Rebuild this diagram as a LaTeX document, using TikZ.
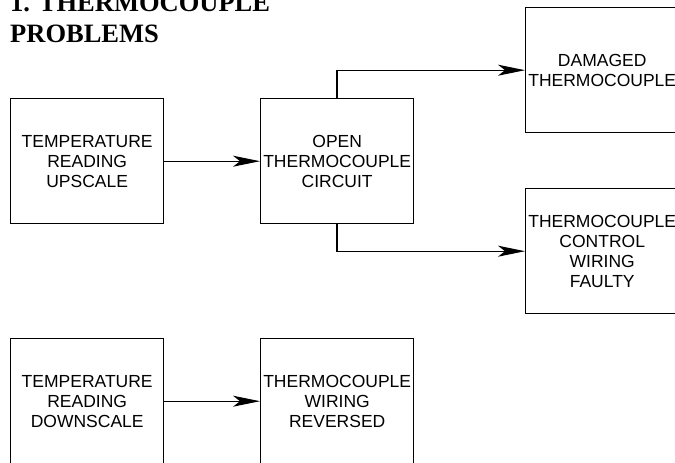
\documentclass[tikz,border=0pt]{standalone}
\usepackage{fontspec}
\setmainfont{Liberation Serif}
\newfontfamily\boxfont{Liberation Sans}
\usetikzlibrary{arrows.meta}
\begin{document}
\begin{tikzpicture}[x=1pt,y=-1pt,
  blk/.style={draw,line width=1.4pt,minimum width=153pt,minimum height=125pt,inner sep=0pt,
    align=center,font=\boxfont\fontsize{17.5}{20}\selectfont,anchor=north west},
  conn/.style={line width=1.4pt,-{Stealth[length=27pt,width=11pt,inset=7pt]}},
  ttl/.style={anchor=base west,inner sep=0pt,font=\bfseries\fontsize{26.5}{30}\selectfont}]
\useasboundingbox (0,0) rectangle (675,463);
\node[ttl] (t1) at (10,12) {1. THERMOCOUPLE};
\node[ttl] (t2) at (10,42) {PROBLEMS};
\node[blk] (a) at (10,98) {TEMPERATURE\\READING\\UPSCALE};
\node[blk] (b) at (260,98) {OPEN\\THERMOCOUPLE\\CIRCUIT};
\node[blk] (c) at (525,7) {DAMAGED\\THERMOCOUPLE};
\node[blk] (d) at (525,188) {THERMOCOUPLE\\CONTROL\\WIRING\\FAULTY};
\node[blk] (e) at (10,338) {TEMPERATURE\\READING\\DOWNSCALE};
\node[blk] (f) at (260,338) {THERMOCOUPLE\\WIRING\\REVERSED};
\coordinate (bt) at (337,98);
\coordinate (bb) at (337,223);
\draw[conn] (a.east) -- (b.west);
\draw[conn] (bt) |- (c.west);
\draw[conn] (bb) |- (d.west);
\draw[conn] (e.east) -- (f.west);
\end{tikzpicture}
\end{document}
